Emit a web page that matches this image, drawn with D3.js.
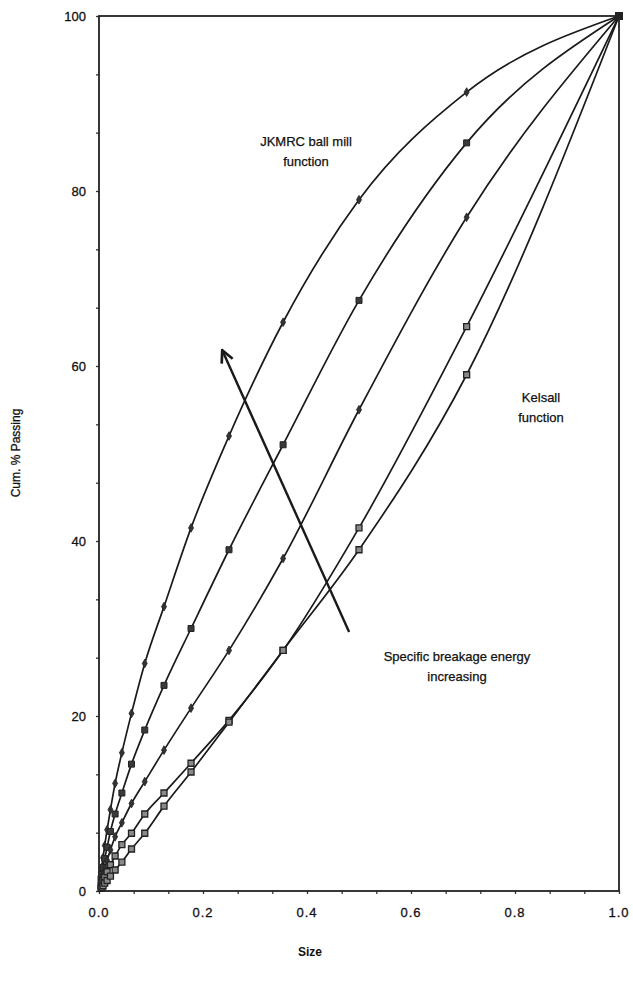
<!DOCTYPE html>
<html>
<head>
<meta charset="utf-8">
<script src="https://cdn.jsdelivr.net/npm/d3@7"></script>
<style>
  body { margin: 0; background: #fff; }
  svg text { font-family: "Liberation Sans", Arial, sans-serif; fill: #111; }
</style>
</head>
<body>
<svg id="chart" width="633" height="989"></svg>
<script>
// relative size (sqrt 2 series)
var sizes = [1.0, 0.707, 0.5, 0.354, 0.25, 0.177, 0.125, 0.088, 0.0625, 0.044, 0.031, 0.022, 0.0156, 0.011, 0.0078, 0.0055, 0.0039];

// cum. % passing, one array per curve (top to bottom)
var curve1 = [100, 91.3, 79, 65, 52, 41.5, 32.5, 26, 20.3, 15.8, 12.3, 9.3, 7.0, 5.2, 3.8, 2.7, 2.0];
var curve2 = [100, 85.5, 67.5, 51, 39, 30, 23.5, 18.4, 14.5, 11.2, 8.8, 6.8, 5.0, 3.7, 2.7, 1.9, 1.4];
var curve3 = [100, 77, 55, 38, 27.5, 20.9, 16.1, 12.5, 10.0, 7.8, 6.2, 4.7, 3.5, 2.6, 1.9, 1.4, 1.0];
var curve4 = [100, 64.5, 41.5, 27.5, 19.5, 14.6, 11.2, 8.8, 6.6, 5.3, 4.0, 3.0, 2.2, 1.6, 1.2, 0.9, 0.6];
var curve5 = [100, 59, 39, 27.5, 19.3, 13.6, 9.7, 6.6, 4.8, 3.3, 2.4, 1.7, 1.2, 0.9, 0.6, 0.4, 0.3];

var curves = [
  { values: curve1, marker: 'diamond' },
  { values: curve2, marker: 'square' },
  { values: curve3, marker: 'diamond' },
  { values: curve4, marker: 'squareLight' },
  { values: curve5, marker: 'squareLight' }
];

var xTickLabels = ['0.0', '0.2', '0.4', '0.6', '0.8', '1.0'];
var yTickLabels = ['0', '20', '40', '60', '80', '100'];

var svg = d3.select('#chart');
var plotLeft = 99, plotRight = 619, plotTop = 16, plotBottom = 891;

var x = d3.scaleLinear().domain([0, 1]).range([plotLeft, plotRight]);
var y = d3.scaleLinear().domain([0, 100]).range([plotBottom, plotTop]);

// minor ticks (thirds of each major step)
var xMinor = d3.range(0, 1.0001, 0.2 / 3);
var yMinor = d3.range(0, 100.001, 20 / 3);

var xAxis = d3.axisBottom(x).tickValues(xMinor).tickSize(3).tickFormat('');
var yAxis = d3.axisLeft(y).tickValues(yMinor).tickSize(3).tickFormat('');

svg.append('g').attr('transform', 'translate(0,' + plotBottom + ')').call(xAxis)
  .call(function(g) { g.select('.domain').remove(); })
  .selectAll('line').attr('stroke', '#333').attr('stroke-width', 1.3);
svg.append('g').attr('transform', 'translate(' + plotLeft + ',0)').call(yAxis)
  .call(function(g) { g.select('.domain').remove(); })
  .selectAll('line').attr('stroke', '#333').attr('stroke-width', 1.3);

// major tick labels
svg.append('g').selectAll('text')
  .data(xTickLabels).enter().append('text')
  .attr('x', function(d) { return x(+d); })
  .attr('y', plotBottom + 26)
  .attr('text-anchor', 'middle')
  .attr('font-size', 13)
  .attr('letter-spacing', 1)
  .attr('stroke', '#111').attr('stroke-width', 0.3)
  .text(function(d) { return d; });

svg.append('g').selectAll('text')
  .data(yTickLabels).enter().append('text')
  .attr('x', plotLeft - 13)
  .attr('y', function(d) { return y(+d) + 5; })
  .attr('text-anchor', 'end')
  .attr('font-size', 13)
  .attr('stroke', '#111').attr('stroke-width', 0.3)
  .text(function(d) { return d; });

// frame
svg.append('rect')
  .attr('x', plotLeft).attr('y', plotTop)
  .attr('width', plotRight - plotLeft).attr('height', plotBottom - plotTop)
  .attr('fill', 'none').attr('stroke', '#222').attr('stroke-width', 1.8);

// curves
var line = d3.line()
  .x(function(d) { return x(d[0]); })
  .y(function(d) { return y(d[1]); })
  .curve(d3.curveMonotoneX);

curves.forEach(function(c) {
  var pts = sizes.map(function(s, i) { return [s, c.values[i]]; });
  pts.push([0, 0]);
  pts.sort(function(a, b) { return a[0] - b[0]; });

  svg.append('path')
    .datum(pts)
    .attr('d', line)
    .attr('fill', 'none')
    .attr('stroke', '#1a1a1a')
    .attr('stroke-width', 1.7);

  var marks = svg.append('g').selectAll('path')
    .data(pts.filter(function(p) { return p[0] > 0 && p[0] < 1; }))
    .enter().append('path')
    .attr('transform', function(d) { return 'translate(' + x(d[0]) + ',' + y(d[1]) + ')'; });

  if (c.marker === 'diamond') {
    marks.attr('d', d3.symbol().type(d3.symbolDiamond).size(22))
      .attr('fill', '#333').attr('stroke', '#222').attr('stroke-width', 0.8);
  } else if (c.marker === 'square') {
    marks.attr('d', d3.symbol().type(d3.symbolSquare).size(36))
      .attr('fill', '#3a3a3a').attr('stroke', '#222').attr('stroke-width', 1);
  } else {
    marks.attr('d', d3.symbol().type(d3.symbolSquare).size(36))
      .attr('fill', '#8a8a8a').attr('stroke', '#222').attr('stroke-width', 1.3);
  }
});

// end point at (1,100)
svg.append('path')
  .attr('transform', 'translate(' + x(1) + ',' + y(100) + ')')
  .attr('d', d3.symbol().type(d3.symbolSquare).size(64))
  .attr('fill', '#222');

// arrow
var arrowFrom = [0.481, 29.6], arrowTo = [0.237, 61.8];
svg.append('defs').append('marker')
  .attr('id', 'head')
  .attr('viewBox', '0 0 10 10')
  .attr('refX', 9).attr('refY', 5)
  .attr('markerWidth', 15).attr('markerHeight', 15)
  .attr('markerUnits', 'userSpaceOnUse')
  .attr('orient', 'auto')
  .append('path')
  .attr('d', 'M1,1 L9,5 L1,9')
  .attr('fill', 'none').attr('stroke', '#1a1a1a').attr('stroke-width', 1.8);

svg.append('line')
  .attr('x1', x(arrowFrom[0])).attr('y1', y(arrowFrom[1]))
  .attr('x2', x(arrowTo[0])).attr('y2', y(arrowTo[1]))
  .attr('stroke', '#1a1a1a').attr('stroke-width', 2.4)
  .attr('marker-end', 'url(#head)');

// annotations
function label(lines, cx, cy) {
  var t = svg.append('text')
    .attr('text-anchor', 'middle')
    .attr('font-size', 13)
    .attr('stroke', '#111').attr('stroke-width', 0.25);
  lines.forEach(function(s, i) {
    t.append('tspan').attr('x', cx).attr('y', cy + i * 20).text(s);
  });
}
label(['JKMRC ball mill', 'function'], 306, 146);
label(['Kelsall', 'function'], 541, 402);
label(['Specific breakage energy', 'increasing'], 457, 661);

// axis titles
svg.append('text')
  .attr('x', 310).attr('y', 956)
  .attr('text-anchor', 'middle')
  .attr('font-size', 12)
  .attr('font-weight', 'bold')
  .text('Size');

svg.append('text')
  .attr('transform', 'translate(20,453) rotate(-90)')
  .attr('text-anchor', 'middle')
  .attr('font-size', 12)
  .attr('stroke', '#111').attr('stroke-width', 0.3)
  .text('Cum. % Passing');
</script>
</body>
</html>
